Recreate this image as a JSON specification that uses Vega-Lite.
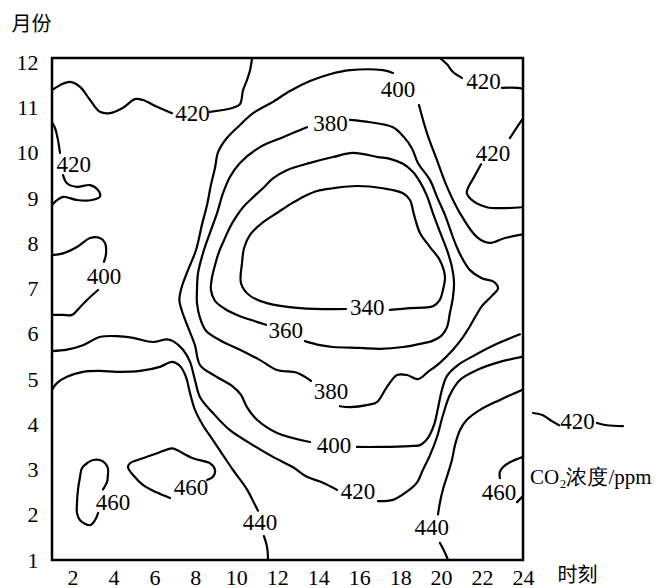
{
"$schema":"https://vega.github.io/schema/vega-lite/v6.json",
"width":471,"height":502,
"autosize":{"type":"none"},
"padding":{"left":52,"top":58,"right":139,"bottom":28},
"background":"white",
"config":{"view":{"stroke":"#000","strokeWidth":2.5},"font":"Liberation Serif"},
"datasets":{
"lines":[
{"s":"a","i":0,"x":1.00,"y":11.39},{"s":"a","i":1,"x":1.39,"y":11.50},{"s":"a","i":2,"x":1.88,"y":11.57},{"s":"a","i":3,"x":2.37,"y":11.46},{"s":"a","i":4,"x":2.86,"y":11.17},{"s":"a","i":5,"x":3.34,"y":10.91},{"s":"a","i":6,"x":3.83,"y":10.88},{"s":"a","i":7,"x":4.47,"y":11.00},{"s":"a","i":8,"x":5.05,"y":11.19},{"s":"a","i":9,"x":5.44,"y":11.17},{"s":"a","i":10,"x":6.13,"y":11.02},{"s":"a","i":11,"x":6.86,"y":10.88},
{"s":"b","i":0,"x":8.71,"y":10.91},{"s":"b","i":1,"x":9.84,"y":11.00},{"s":"b","i":2,"x":10.18,"y":11.08},{"s":"b","i":3,"x":10.33,"y":11.39},{"s":"b","i":4,"x":10.52,"y":11.61},{"s":"b","i":5,"x":10.67,"y":11.83},{"s":"b","i":6,"x":10.77,"y":12.10},
{"s":"c","i":0,"x":1.00,"y":10.68},{"s":"c","i":1,"x":1.15,"y":10.55},{"s":"c","i":2,"x":1.29,"y":10.29},{"s":"c","i":3,"x":1.39,"y":10.00},
{"s":"d","i":0,"x":1.54,"y":9.51},{"s":"d","i":1,"x":1.73,"y":9.33},{"s":"d","i":2,"x":2.22,"y":9.25},{"s":"d","i":3,"x":2.86,"y":9.29},{"s":"d","i":4,"x":3.25,"y":9.18},{"s":"d","i":5,"x":3.34,"y":9.03},{"s":"d","i":6,"x":2.95,"y":8.96},{"s":"d","i":7,"x":2.22,"y":8.96},{"s":"d","i":8,"x":1.54,"y":9.03},{"s":"d","i":9,"x":1.15,"y":8.92},{"s":"d","i":10,"x":1.00,"y":8.85},
{"s":"e","i":0,"x":1.00,"y":7.74},{"s":"e","i":1,"x":1.54,"y":7.78},{"s":"e","i":2,"x":2.22,"y":7.92},{"s":"e","i":3,"x":2.86,"y":8.12},{"s":"e","i":4,"x":3.34,"y":8.12},{"s":"e","i":5,"x":3.59,"y":8.01},{"s":"e","i":6,"x":3.64,"y":7.78},{"s":"e","i":7,"x":3.54,"y":7.59},
{"s":"f","i":0,"x":3.25,"y":6.97},{"s":"f","i":1,"x":2.71,"y":6.75},{"s":"f","i":2,"x":2.37,"y":6.59},{"s":"f","i":3,"x":1.98,"y":6.42},{"s":"f","i":4,"x":1.54,"y":6.42},{"s":"f","i":5,"x":1.00,"y":6.42},
{"s":"g","i":0,"x":1.00,"y":5.62},{"s":"g","i":1,"x":1.73,"y":5.65},{"s":"g","i":2,"x":2.51,"y":5.75},{"s":"g","i":3,"x":3.34,"y":5.93},{"s":"g","i":4,"x":4.17,"y":5.95},{"s":"g","i":5,"x":4.96,"y":5.91},{"s":"g","i":6,"x":5.93,"y":5.82},{"s":"g","i":7,"x":6.61,"y":5.88},{"s":"g","i":8,"x":6.91,"y":5.84},{"s":"g","i":9,"x":7.40,"y":5.65},{"s":"g","i":10,"x":7.74,"y":5.38},{"s":"g","i":11,"x":7.98,"y":4.98},{"s":"g","i":12,"x":8.23,"y":4.60},{"s":"g","i":13,"x":8.86,"y":4.25},{"s":"g","i":14,"x":9.69,"y":3.87},{"s":"g","i":15,"x":10.67,"y":3.58},{"s":"g","i":16,"x":11.79,"y":3.28},{"s":"g","i":17,"x":12.77,"y":3.05},{"s":"g","i":18,"x":13.45,"y":2.84},{"s":"g","i":19,"x":14.23,"y":2.71},{"s":"g","i":20,"x":14.92,"y":2.55},
{"s":"h","i":0,"x":16.92,"y":2.30},{"s":"h","i":1,"x":17.65,"y":2.33},{"s":"h","i":2,"x":18.33,"y":2.51},{"s":"h","i":3,"x":18.82,"y":2.71},{"s":"h","i":4,"x":19.11,"y":2.99},{"s":"h","i":5,"x":19.46,"y":3.32},{"s":"h","i":6,"x":19.80,"y":3.72},{"s":"h","i":7,"x":20.09,"y":4.20},{"s":"h","i":8,"x":20.43,"y":4.65},{"s":"h","i":9,"x":20.92,"y":4.98},{"s":"h","i":10,"x":21.75,"y":5.20},{"s":"h","i":11,"x":22.87,"y":5.38},{"s":"h","i":12,"x":23.95,"y":5.49},
{"s":"k","i":0,"x":1.00,"y":4.76},{"s":"k","i":1,"x":1.24,"y":4.91},{"s":"k","i":2,"x":1.73,"y":5.05},{"s":"k","i":3,"x":2.51,"y":5.16},{"s":"k","i":4,"x":3.34,"y":5.18},{"s":"k","i":5,"x":4.17,"y":5.16},{"s":"k","i":6,"x":5.30,"y":5.18},{"s":"k","i":7,"x":6.27,"y":5.27},{"s":"k","i":8,"x":6.86,"y":5.38},{"s":"k","i":9,"x":7.25,"y":5.29},{"s":"k","i":10,"x":7.54,"y":5.05},{"s":"k","i":11,"x":7.74,"y":4.69},{"s":"k","i":12,"x":7.98,"y":4.32},{"s":"k","i":13,"x":8.37,"y":3.98},{"s":"k","i":14,"x":8.86,"y":3.65},{"s":"k","i":15,"x":9.35,"y":3.32},{"s":"k","i":16,"x":9.84,"y":2.99},{"s":"k","i":17,"x":10.52,"y":2.56},{"s":"k","i":18,"x":10.91,"y":2.22},{"s":"k","i":19,"x":11.06,"y":2.09},
{"s":"l","i":0,"x":11.35,"y":1.53},{"s":"l","i":1,"x":11.50,"y":1.29},{"s":"l","i":2,"x":11.55,"y":1.00},
{"s":"m","i":0,"x":24.00,"y":8.20},{"s":"m","i":1,"x":23.12,"y":8.12},{"s":"m","i":2,"x":22.39,"y":8.01},{"s":"m","i":3,"x":21.75,"y":8.14},{"s":"m","i":4,"x":20.92,"y":8.67},{"s":"m","i":5,"x":20.29,"y":9.25},{"s":"m","i":6,"x":19.80,"y":9.84},{"s":"m","i":7,"x":19.31,"y":10.44},{"s":"m","i":8,"x":18.92,"y":11.06},
{"s":"n","i":0,"x":17.65,"y":11.77},{"s":"n","i":1,"x":17.16,"y":11.83},{"s":"n","i":2,"x":15.55,"y":11.83},{"s":"n","i":3,"x":14.57,"y":11.74},{"s":"n","i":4,"x":13.60,"y":11.59},{"s":"n","i":5,"x":12.62,"y":11.37},{"s":"n","i":6,"x":11.79,"y":11.13},{"s":"n","i":7,"x":10.82,"y":10.88},{"s":"n","i":8,"x":10.18,"y":10.62},{"s":"n","i":9,"x":9.54,"y":10.33},{"s":"n","i":10,"x":9.11,"y":10.02},{"s":"n","i":11,"x":8.96,"y":9.67},{"s":"n","i":12,"x":8.76,"y":9.29},{"s":"n","i":13,"x":8.57,"y":8.85},{"s":"n","i":14,"x":8.32,"y":8.41},{"s":"n","i":15,"x":8.03,"y":7.85},{"s":"n","i":16,"x":7.64,"y":7.41},{"s":"n","i":17,"x":7.32,"y":7.01},{"s":"n","i":18,"x":7.22,"y":6.75},{"s":"n","i":19,"x":7.35,"y":6.50},{"s":"n","i":20,"x":7.64,"y":6.15},{"s":"n","i":21,"x":7.98,"y":5.75},{"s":"n","i":22,"x":8.23,"y":5.31},{"s":"n","i":23,"x":8.96,"y":5.07},{"s":"n","i":24,"x":9.79,"y":4.85},{"s":"n","i":25,"x":10.23,"y":4.65},{"s":"n","i":26,"x":10.52,"y":4.38},{"s":"n","i":27,"x":11.01,"y":4.10},{"s":"n","i":28,"x":11.99,"y":3.81},{"s":"n","i":29,"x":13.60,"y":3.61},
{"s":"o","i":0,"x":15.89,"y":3.50},{"s":"o","i":1,"x":17.02,"y":3.50},{"s":"o","i":2,"x":18.48,"y":3.52},{"s":"o","i":3,"x":18.97,"y":3.54},{"s":"o","i":4,"x":19.36,"y":3.70},{"s":"o","i":5,"x":19.65,"y":3.98},{"s":"o","i":6,"x":19.85,"y":4.36},{"s":"o","i":7,"x":20.04,"y":4.76},{"s":"o","i":8,"x":20.29,"y":5.07},{"s":"o","i":9,"x":20.82,"y":5.31},{"s":"o","i":10,"x":21.65,"y":5.53},{"s":"o","i":11,"x":22.73,"y":5.78},{"s":"o","i":12,"x":23.85,"y":5.99},
{"s":"p","i":0,"x":15.55,"y":10.73},{"s":"p","i":1,"x":16.53,"y":10.68},{"s":"p","i":2,"x":17.65,"y":10.57},{"s":"p","i":3,"x":18.19,"y":10.35},{"s":"p","i":4,"x":18.58,"y":10.10},{"s":"p","i":5,"x":18.87,"y":9.78},{"s":"p","i":6,"x":19.46,"y":9.40},{"s":"p","i":7,"x":19.80,"y":9.03},{"s":"p","i":8,"x":20.19,"y":8.63},{"s":"p","i":9,"x":20.48,"y":8.26},{"s":"p","i":10,"x":20.73,"y":7.96},{"s":"p","i":11,"x":21.02,"y":7.68},{"s":"p","i":12,"x":21.41,"y":7.41},{"s":"p","i":13,"x":21.99,"y":7.23},{"s":"p","i":14,"x":22.58,"y":7.15},{"s":"p","i":15,"x":22.78,"y":7.01},{"s":"p","i":16,"x":22.48,"y":6.84},{"s":"p","i":17,"x":22.00,"y":6.62},{"s":"p","i":18,"x":21.70,"y":6.40},{"s":"p","i":19,"x":21.41,"y":6.17},{"s":"p","i":20,"x":21.07,"y":5.93},{"s":"p","i":21,"x":20.58,"y":5.65},{"s":"p","i":22,"x":19.94,"y":5.36},{"s":"p","i":23,"x":19.36,"y":5.16},{"s":"p","i":24,"x":18.87,"y":5.00},{"s":"p","i":25,"x":18.33,"y":5.09},{"s":"p","i":26,"x":17.85,"y":5.09},{"s":"p","i":27,"x":17.36,"y":4.83},{"s":"p","i":28,"x":16.87,"y":4.49},{"s":"p","i":29,"x":16.43,"y":4.43},{"s":"p","i":30,"x":15.55,"y":4.38},{"s":"p","i":31,"x":15.06,"y":4.40},
{"s":"q","i":0,"x":13.65,"y":4.96},{"s":"q","i":1,"x":12.96,"y":5.14},{"s":"q","i":2,"x":11.99,"y":5.20},{"s":"q","i":3,"x":11.16,"y":5.42},{"s":"q","i":4,"x":10.18,"y":5.65},{"s":"q","i":5,"x":9.20,"y":5.86},{"s":"q","i":6,"x":8.52,"y":6.07},{"s":"q","i":7,"x":8.23,"y":6.35},{"s":"q","i":8,"x":8.08,"y":6.68},{"s":"q","i":9,"x":8.08,"y":6.97},{"s":"q","i":10,"x":8.13,"y":7.34},{"s":"q","i":11,"x":8.37,"y":7.78},{"s":"q","i":12,"x":8.71,"y":8.23},{"s":"q","i":13,"x":9.06,"y":8.67},{"s":"q","i":14,"x":9.35,"y":9.11},{"s":"q","i":15,"x":9.69,"y":9.47},{"s":"q","i":16,"x":10.18,"y":9.78},{"s":"q","i":17,"x":11.16,"y":10.13},{"s":"q","i":18,"x":12.28,"y":10.35},{"s":"q","i":19,"x":13.45,"y":10.57},
{"s":"r","i":0,"x":13.35,"y":5.84},{"s":"r","i":1,"x":14.09,"y":5.75},{"s":"r","i":2,"x":14.72,"y":5.71},{"s":"r","i":3,"x":16.04,"y":5.69},{"s":"r","i":4,"x":17.02,"y":5.67},{"s":"r","i":5,"x":18.14,"y":5.71},{"s":"r","i":6,"x":18.97,"y":5.78},{"s":"r","i":7,"x":19.55,"y":5.84},{"s":"r","i":8,"x":20.04,"y":5.97},{"s":"r","i":9,"x":20.29,"y":6.15},{"s":"r","i":10,"x":20.43,"y":6.46},{"s":"r","i":11,"x":20.58,"y":6.81},{"s":"r","i":12,"x":20.63,"y":7.15},{"s":"r","i":13,"x":20.53,"y":7.48},{"s":"r","i":14,"x":20.29,"y":7.85},{"s":"r","i":15,"x":19.94,"y":8.26},{"s":"r","i":16,"x":19.60,"y":8.67},{"s":"r","i":17,"x":19.31,"y":9.05},{"s":"r","i":18,"x":18.97,"y":9.36},{"s":"r","i":19,"x":18.63,"y":9.58},{"s":"r","i":20,"x":18.14,"y":9.76},{"s":"r","i":21,"x":17.50,"y":9.87},{"s":"r","i":22,"x":16.92,"y":9.91},{"s":"r","i":23,"x":15.70,"y":10.00},{"s":"r","i":24,"x":14.72,"y":9.91},{"s":"r","i":25,"x":13.60,"y":9.78},{"s":"r","i":26,"x":12.47,"y":9.62},{"s":"r","i":27,"x":11.79,"y":9.44},{"s":"r","i":28,"x":11.30,"y":9.22},{"s":"r","i":29,"x":10.77,"y":9.00},{"s":"r","i":30,"x":10.33,"y":8.80},{"s":"r","i":31,"x":9.98,"y":8.58},{"s":"r","i":32,"x":9.69,"y":8.36},{"s":"r","i":33,"x":9.40,"y":8.07},{"s":"r","i":34,"x":9.15,"y":7.81},{"s":"r","i":35,"x":8.96,"y":7.52},{"s":"r","i":36,"x":8.81,"y":7.24},{"s":"r","i":37,"x":8.76,"y":6.97},{"s":"r","i":38,"x":8.96,"y":6.73},{"s":"r","i":39,"x":9.45,"y":6.55},{"s":"r","i":40,"x":10.18,"y":6.39},{"s":"r","i":41,"x":10.91,"y":6.28},{"s":"r","i":42,"x":11.45,"y":6.20},
{"s":"sl","i":0,"x":17.50,"y":6.53},{"s":"sl","i":1,"x":18.48,"y":6.57},{"s":"sl","i":2,"x":19.60,"y":6.61},{"s":"sl","i":3,"x":19.94,"y":6.75},{"s":"sl","i":4,"x":20.09,"y":6.97},{"s":"sl","i":5,"x":20.19,"y":7.26},{"s":"sl","i":6,"x":19.94,"y":7.63},{"s":"sl","i":7,"x":19.46,"y":7.92},{"s":"sl","i":8,"x":18.97,"y":8.23},{"s":"sl","i":9,"x":18.68,"y":8.63},{"s":"sl","i":10,"x":18.48,"y":8.96},{"s":"sl","i":11,"x":18.14,"y":9.11},{"s":"sl","i":12,"x":17.16,"y":9.22},{"s":"sl","i":13,"x":15.89,"y":9.27},{"s":"sl","i":14,"x":14.72,"y":9.22},{"s":"sl","i":15,"x":13.94,"y":9.16},{"s":"sl","i":16,"x":13.35,"y":9.05},{"s":"sl","i":17,"x":12.72,"y":8.89},{"s":"sl","i":18,"x":12.04,"y":8.69},{"s":"sl","i":19,"x":11.25,"y":8.45},{"s":"sl","i":20,"x":10.67,"y":8.19},{"s":"sl","i":21,"x":10.38,"y":7.90},{"s":"sl","i":22,"x":10.28,"y":7.57},{"s":"sl","i":23,"x":10.23,"y":7.12},{"s":"sl","i":24,"x":10.62,"y":6.86},{"s":"sl","i":25,"x":11.50,"y":6.68},{"s":"sl","i":26,"x":13.11,"y":6.57},{"s":"sl","i":27,"x":15.36,"y":6.55},
{"s":"t","i":0,"x":3.25,"y":2.04},{"s":"t","i":1,"x":3.10,"y":1.88},{"s":"t","i":2,"x":2.86,"y":1.77},{"s":"t","i":3,"x":2.37,"y":1.88},{"s":"t","i":4,"x":2.22,"y":2.04},{"s":"t","i":5,"x":2.22,"y":2.26},{"s":"t","i":6,"x":2.27,"y":2.56},{"s":"t","i":7,"x":2.37,"y":2.84},{"s":"t","i":8,"x":2.46,"y":3.03},{"s":"t","i":9,"x":2.71,"y":3.14},{"s":"t","i":10,"x":3.00,"y":3.21},{"s":"t","i":11,"x":3.34,"y":3.21},{"s":"t","i":12,"x":3.59,"y":3.14},{"s":"t","i":13,"x":3.73,"y":3.03},{"s":"t","i":14,"x":3.73,"y":2.88},{"s":"t","i":15,"x":3.69,"y":2.73},{"s":"t","i":16,"x":3.49,"y":2.56},
{"s":"u","i":0,"x":6.76,"y":2.37},{"s":"u","i":1,"x":6.13,"y":2.49},{"s":"u","i":2,"x":5.44,"y":2.66},{"s":"u","i":3,"x":4.96,"y":2.88},{"s":"u","i":4,"x":4.71,"y":3.05},{"s":"u","i":5,"x":4.81,"y":3.14},{"s":"u","i":6,"x":5.44,"y":3.25},{"s":"u","i":7,"x":6.13,"y":3.36},{"s":"u","i":8,"x":6.86,"y":3.47},{"s":"u","i":9,"x":7.10,"y":3.43},{"s":"u","i":10,"x":7.88,"y":3.25},{"s":"u","i":11,"x":8.71,"y":3.14},{"s":"u","i":12,"x":8.96,"y":2.99},{"s":"u","i":13,"x":8.86,"y":2.84},{"s":"u","i":14,"x":8.57,"y":2.77},
{"s":"v","i":0,"x":24.00,"y":3.28},{"s":"v","i":1,"x":23.36,"y":3.16},{"s":"v","i":2,"x":23.02,"y":3.05},{"s":"v","i":3,"x":22.87,"y":2.95},{"s":"v","i":4,"x":22.87,"y":2.81},
{"s":"w","i":0,"x":23.71,"y":2.28},{"s":"w","i":1,"x":23.95,"y":2.39},
{"s":"x1","i":0,"x":19.94,"y":12.10},{"s":"x1","i":1,"x":20.29,"y":11.96},{"s":"x1","i":2,"x":20.58,"y":11.79},{"s":"x1","i":3,"x":21.02,"y":11.66},
{"s":"x2","i":0,"x":22.97,"y":11.44},{"s":"x2","i":1,"x":23.71,"y":11.44},{"s":"x2","i":2,"x":24.00,"y":11.42},
{"s":"y1","i":0,"x":23.95,"y":10.73},{"s":"y1","i":1,"x":23.71,"y":10.57},{"s":"y1","i":2,"x":23.36,"y":10.33},
{"s":"y2","i":0,"x":21.95,"y":9.75},{"s":"y2","i":1,"x":21.61,"y":9.47},{"s":"y2","i":2,"x":21.31,"y":9.22},{"s":"y2","i":3,"x":21.26,"y":9.11},{"s":"y2","i":4,"x":21.56,"y":8.94},{"s":"y2","i":5,"x":22.24,"y":8.80},{"s":"y2","i":6,"x":23.02,"y":8.78},{"s":"y2","i":7,"x":23.95,"y":8.80},
{"s":"z1","i":0,"x":20.34,"y":1.00},{"s":"z1","i":1,"x":20.19,"y":1.16},{"s":"z1","i":2,"x":19.94,"y":1.38},
{"s":"z2","i":0,"x":19.85,"y":2.01},{"s":"z2","i":1,"x":19.94,"y":2.26},{"s":"z2","i":2,"x":20.09,"y":2.56},{"s":"z2","i":3,"x":20.34,"y":2.92},{"s":"z2","i":4,"x":20.53,"y":3.21},{"s":"z2","i":5,"x":20.68,"y":3.54},{"s":"z2","i":6,"x":20.92,"y":3.87},{"s":"z2","i":7,"x":21.26,"y":4.10},{"s":"z2","i":8,"x":21.90,"y":4.32},{"s":"z2","i":9,"x":22.87,"y":4.54},{"s":"z2","i":10,"x":23.95,"y":4.76},
{"s":"L1","i":0,"x":24.49,"y":4.25},{"s":"L1","i":1,"x":24.97,"y":4.20},{"s":"L1","i":2,"x":25.41,"y":4.07},{"s":"L1","i":3,"x":25.76,"y":3.98},
{"s":"L2","i":0,"x":27.61,"y":4.03},{"s":"L2","i":1,"x":28.10,"y":3.98},{"s":"L2","i":2,"x":28.88,"y":3.96}
],
"labels":[
{"t":"420","x":7.86,"y":10.86},{"t":"420","x":2.06,"y":9.73},{"t":"400","x":3.54,"y":7.26},
{"t":"380","x":14.60,"y":10.64},{"t":"400","x":17.89,"y":11.39},{"t":"420","x":22.07,"y":11.57},{"t":"420","x":22.53,"y":9.98},
{"t":"360","x":12.42,"y":6.06},{"t":"340","x":16.40,"y":6.57},{"t":"380","x":14.62,"y":4.72},{"t":"400","x":14.77,"y":3.52},
{"t":"420","x":15.94,"y":2.51},{"t":"460","x":3.98,"y":2.26},{"t":"460","x":7.79,"y":2.60},{"t":"440","x":11.16,"y":1.82},
{"t":"440","x":19.55,"y":1.71},{"t":"460","x":22.83,"y":2.49},{"t":"420","x":26.66,"y":4.05}
],
"notes":[{"t":"CO₂浓度/ppm","x":24.34,"y":2.81}]
},
"encoding":{
"x":{"field":"x","type":"quantitative","scale":{"domain":[1,24],"nice":false,"zero":false},
 "axis":{"values":[2,4,6,8,10,12,14,16,18,20,22,24],"domain":false,"ticks":false,"grid":false,"labelFontSize":22,"labelFont":"Liberation Serif","labelColor":"#000","labelPadding":7,"labelFlush":false,"labelOverlap":false,"labelBound":false,
 "title":"时刻","titleFont":"Noto Sans CJK SC","titleFontSize":20,"titleFontWeight":"normal","titleColor":"#000","titleX":525,"titleY":15,"titleAlign":"center","titleBaseline":"middle","titleAngle":0}},
"y":{"field":"y","type":"quantitative","scale":{"domain":[1,12.1],"nice":false,"zero":false},
 "axis":{"values":[1,2,3,4,5,6,7,8,9,10,11,12],"domain":false,"ticks":false,"grid":false,"labelFontSize":22,"labelFont":"Liberation Serif","labelColor":"#000","labelPadding":14,"labelFlush":false,"labelOverlap":false,"labelBound":false,
 "title":"月份","titleFont":"Noto Sans CJK SC","titleFontSize":20,"titleFontWeight":"normal","titleColor":"#000","titleAngle":0,"titleX":-21,"titleY":-34,"titleAlign":"center","titleBaseline":"middle"}}
},
"layer":[
{"data":{"name":"lines"},"mark":{"type":"line","interpolate":"catmull-rom","stroke":"#000","strokeWidth":2.2,"strokeCap":"round","strokeJoin":"round"},
 "encoding":{"detail":{"field":"s"},"order":{"field":"i","type":"quantitative"}}},
{"data":{"name":"labels"},"mark":{"type":"text","font":"Liberation Serif","fontSize":23,"color":"#000","baseline":"middle","align":"center"},
 "encoding":{"text":{"field":"t"}}},
{"data":{"name":"notes"},"mark":{"type":"text","font":"Liberation Serif","fontSize":21,"color":"#000","baseline":"middle","align":"left"},
 "encoding":{"text":{"field":"t"}}}
]
}
